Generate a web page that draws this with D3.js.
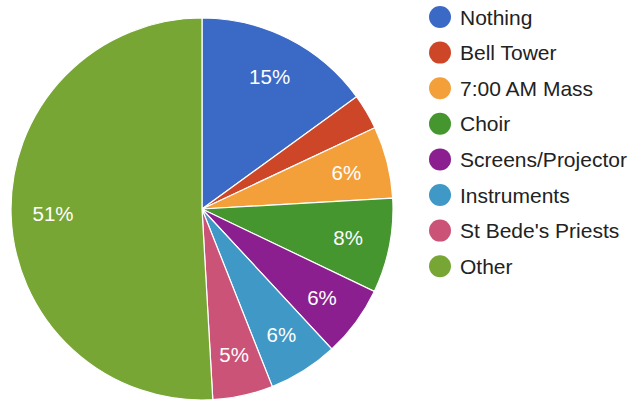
<!DOCTYPE html>
<html>
<head>
<meta charset="utf-8">
<script src="https://cdn.jsdelivr.net/npm/d3@7"></script>
<style>
  body { margin: 0; background: #fff; }
  svg { display: block; font-family: Arial, "Liberation Sans", sans-serif; }
</style>
</head>
<body>
<svg id="chart" width="637" height="400"></svg>
<script>
// data
var categories = ["Nothing", "Bell Tower", "7:00 AM Mass", "Choir",
                  "Screens/Projector", "Instruments", "St Bede's Priests", "Other"];
var values = [15, 3, 6.1, 8, 6, 5.9, 5.1, 50.9];
var labels = ["15%", "", "6%", "8%", "6%", "6%", "5%", "51%"];
var colors = ["#3b69c6", "#cc4627", "#f39f3a", "#45962f",
              "#8b1f8f", "#3f98c5", "#cb5378", "#77a634"];

var svg = d3.select("#chart");
var cx = 202, cy = 209, radius = 191;

var data = categories.map(function (c, i) {
    return { name: c, value: values[i], label: labels[i], color: colors[i] };
});

var pie = d3.pie().sort(null).value(function (d) { return d.value; });
var arc = d3.arc().innerRadius(0).outerRadius(radius);
var labelArc = d3.arc().innerRadius(radius * 0.78).outerRadius(radius * 0.78);

var g = svg.append("g").attr("transform", "translate(" + cx + "," + cy + ")");

var slices = g.selectAll("g.slice")
    .data(pie(data))
    .enter().append("g")
    .attr("class", "slice");

slices.append("path")
    .attr("d", arc)
    .attr("fill", function (d) { return d.data.color; })
    .attr("stroke", "#fff")
    .attr("stroke-width", 1.2);

slices.append("text")
    .attr("transform", function (d) { return "translate(" + labelArc.centroid(d) + ")"; })
    .attr("text-anchor", "middle")
    .attr("dy", "0.36em")
    .attr("fill", "#fff")
    .attr("font-size", 20.5)
    .text(function (d) { return d.data.label; });

// legend
var legend = svg.append("g").attr("transform", "translate(440,17)");
var row = legend.selectAll("g.row")
    .data(data)
    .enter().append("g")
    .attr("class", "row")
    .attr("transform", function (d, i) { return "translate(0," + (i * 35.6) + ")"; });

row.append("circle")
    .attr("r", 11)
    .attr("fill", function (d) { return d.color; });

row.append("text")
    .attr("x", 20)
    .attr("dy", "0.36em")
    .attr("fill", "#222")
    .attr("font-size", 21)
    .text(function (d) { return d.name; });
</script>
</body>
</html>
